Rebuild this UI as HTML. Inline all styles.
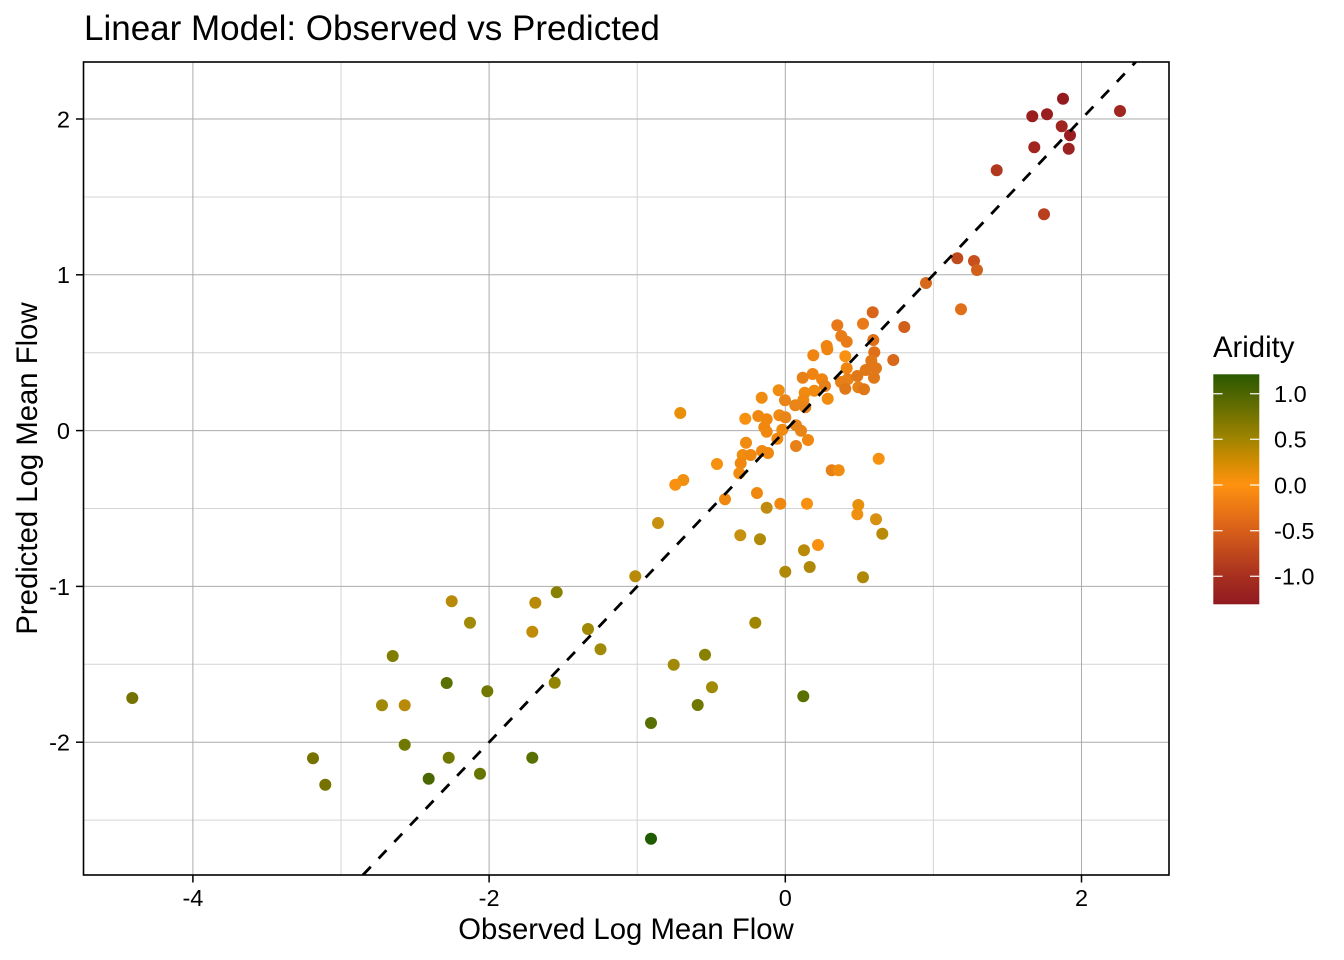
<!DOCTYPE html>
<html>
<head>
<meta charset="utf-8">
<style>
  html,body{margin:0;padding:0;background:#fff;}
  svg{display:block;}
  text{font-family:"Liberation Sans", Arial, sans-serif; fill:#000;}
</style>
</head>
<body>
<svg width="1344" height="960" viewBox="0 0 1344 960" xmlns="http://www.w3.org/2000/svg">
  <defs>
    <linearGradient id="cb" x1="0" y1="0" x2="0" y2="1">
      <stop offset="0" stop-color="#2a5900"/>
      <stop offset="0.082" stop-color="#4c6400"/>
      <stop offset="0.281" stop-color="#a08400"/>
      <stop offset="0.380" stop-color="#d38c00"/>
      <stop offset="0.479" stop-color="#ff9210"/>
      <stop offset="0.677" stop-color="#d8601a"/>
      <stop offset="0.875" stop-color="#a8301f"/>
      <stop offset="1" stop-color="#901a20"/>
    </linearGradient>
    <clipPath id="panel"><rect x="83.5" y="62" width="1085.5" height="813"/></clipPath>
  </defs>

  <rect x="0" y="0" width="1344" height="960" fill="#fff"/>

  <!-- Title -->
  <text x="84" y="40" font-size="35">Linear Model: Observed vs Predicted</text>

  <!-- Grid minor -->
  <g stroke="#d4d4d4" stroke-width="1" fill="none">
    <line x1="341" y1="62" x2="341" y2="875"/>
    <line x1="637.2" y1="62" x2="637.2" y2="875"/>
    <line x1="933.4" y1="62" x2="933.4" y2="875"/>
    <line x1="83.5" y1="197" x2="1169" y2="197"/>
    <line x1="83.5" y1="352.7" x2="1169" y2="352.7"/>
    <line x1="83.5" y1="508.5" x2="1169" y2="508.5"/>
    <line x1="83.5" y1="664.3" x2="1169" y2="664.3"/>
    <line x1="83.5" y1="820.1" x2="1169" y2="820.1"/>
  </g>
  <!-- Grid major -->
  <g stroke="#ababab" stroke-width="1" fill="none">
    <line x1="192.9" y1="62" x2="192.9" y2="875"/>
    <line x1="489.1" y1="62" x2="489.1" y2="875"/>
    <line x1="785.3" y1="62" x2="785.3" y2="875"/>
    <line x1="1081.5" y1="62" x2="1081.5" y2="875"/>
    <line x1="83.5" y1="119" x2="1169" y2="119"/>
    <line x1="83.5" y1="274.8" x2="1169" y2="274.8"/>
    <line x1="83.5" y1="430.6" x2="1169" y2="430.6"/>
    <line x1="83.5" y1="586.4" x2="1169" y2="586.4"/>
    <line x1="83.5" y1="742.2" x2="1169" y2="742.2"/>
  </g>

  <!-- Points -->
  <g clip-path="url(#panel)">
    <circle cx="1063" cy="98.7" r="6" fill="#951a20"/>
    <circle cx="1120" cy="111" r="6" fill="#a0261f"/>
    <circle cx="1032.3" cy="116.3" r="6" fill="#9a1e20"/>
    <circle cx="1047" cy="114.3" r="6" fill="#9a1e20"/>
    <circle cx="1061.7" cy="126.3" r="6" fill="#a0241f"/>
    <circle cx="1070" cy="135.3" r="6" fill="#9a1e20"/>
    <circle cx="1034.3" cy="147.3" r="6" fill="#a0261f"/>
    <circle cx="1068.7" cy="148.7" r="6" fill="#9a2220"/>
    <circle cx="996.7" cy="170.3" r="6" fill="#b0381f"/>
    <circle cx="1044" cy="214.3" r="6" fill="#b8401f"/>
    <circle cx="957.3" cy="258.3" r="6" fill="#c04a1c"/>
    <circle cx="974" cy="261" r="6" fill="#c8501c"/>
    <circle cx="977" cy="270" r="6" fill="#d0601a"/>
    <circle cx="961" cy="309.3" r="6" fill="#e07018"/>
    <circle cx="926" cy="283" r="6" fill="#d8681a"/>
    <circle cx="904.3" cy="327" r="6" fill="#d0601a"/>
    <circle cx="872.7" cy="312.3" r="6" fill="#d8651a"/>
    <circle cx="893.3" cy="360" r="6" fill="#d8681a"/>

    <circle cx="837.3" cy="325.3" r="6" fill="#e8781a"/>
    <circle cx="863" cy="323.7" r="6" fill="#e87a1a"/>
    <circle cx="841.3" cy="336" r="6" fill="#e87c18"/>
    <circle cx="846.7" cy="341.7" r="6" fill="#e87c18"/>
    <circle cx="873.3" cy="340" r="6" fill="#e07018"/>
    <circle cx="826.7" cy="346" r="6" fill="#f08410"/>
    <circle cx="827.3" cy="349.3" r="6" fill="#f08410"/>
    <circle cx="874.3" cy="352.3" r="6" fill="#e07018"/>
    <circle cx="813.3" cy="355.3" r="6" fill="#f08410"/>
    <circle cx="845.3" cy="356.3" r="6" fill="#f89010"/>
    <circle cx="871.3" cy="360.7" r="6" fill="#e07818"/>
    <circle cx="846.7" cy="368.3" r="6" fill="#f08410"/>
    <circle cx="876" cy="368.3" r="6" fill="#e07818"/>
    <circle cx="865.7" cy="370" r="6" fill="#e07818"/>
    <circle cx="812.7" cy="374" r="6" fill="#f08410"/>
    <circle cx="802.7" cy="377.7" r="6" fill="#e88018"/>
    <circle cx="822" cy="379.3" r="6" fill="#f08410"/>
    <circle cx="847.7" cy="379.3" r="6" fill="#e88018"/>
    <circle cx="857.3" cy="376" r="6" fill="#e07818"/>
    <circle cx="874" cy="377.7" r="6" fill="#e07818"/>
    <circle cx="841" cy="382" r="6" fill="#e88018"/>
    <circle cx="858.3" cy="387.3" r="6" fill="#e88018"/>
    <circle cx="864" cy="389.3" r="6" fill="#e07818"/>
    <circle cx="845.3" cy="388.7" r="6" fill="#e07818"/>
    <circle cx="825" cy="386" r="6" fill="#e88018"/>
    <circle cx="804.7" cy="392.7" r="6" fill="#f08a10"/>
    <circle cx="814.3" cy="390.7" r="6" fill="#f08a10"/>
    <circle cx="778.7" cy="390.3" r="6" fill="#f08c10"/>
    <circle cx="761.7" cy="397.7" r="6" fill="#f08c10"/>
    <circle cx="827.7" cy="398.7" r="6" fill="#f08c10"/>
    <circle cx="785" cy="400.3" r="6" fill="#e88418"/>
    <circle cx="803.3" cy="400" r="6" fill="#f08810"/>
    <circle cx="795.3" cy="405.3" r="6" fill="#e88418"/>
    <circle cx="805.3" cy="407.3" r="6" fill="#e88418"/>
    <circle cx="745.3" cy="418.7" r="6" fill="#f89010"/>
    <circle cx="758.3" cy="416" r="6" fill="#f08810"/>
    <circle cx="766.7" cy="419.3" r="6" fill="#f08810"/>
    <circle cx="779.3" cy="415.3" r="6" fill="#f08a10"/>
    <circle cx="785.3" cy="417.3" r="6" fill="#e88418"/>
    <circle cx="764.3" cy="427.3" r="6" fill="#f08810"/>
    <circle cx="766.7" cy="431.7" r="6" fill="#f08810"/>
    <circle cx="782.3" cy="429.7" r="6" fill="#f08a10"/>
    <circle cx="796" cy="425.3" r="6" fill="#e88418"/>
    <circle cx="801" cy="430.7" r="6" fill="#e88418"/>
    <circle cx="777.3" cy="438.7" r="6" fill="#f08810"/>
    <circle cx="808" cy="440" r="6" fill="#f08810"/>
    <circle cx="796" cy="446" r="6" fill="#e88018"/>
    <circle cx="746" cy="442.7" r="6" fill="#f08c10"/>
    <circle cx="762" cy="451" r="6" fill="#f08810"/>
    <circle cx="768" cy="453" r="6" fill="#f08810"/>
    <circle cx="742.7" cy="455" r="6" fill="#f08c10"/>
    <circle cx="750.7" cy="455" r="6" fill="#f08810"/>
    <circle cx="878.7" cy="458.7" r="6" fill="#f89010"/>
    <circle cx="680.3" cy="413" r="6" fill="#e8900a"/>
    <circle cx="740.7" cy="463.3" r="6" fill="#f08810"/>
    <circle cx="717" cy="464" r="6" fill="#f89010"/>
    <circle cx="739.3" cy="473.3" r="6" fill="#f08c10"/>
    <circle cx="683.3" cy="480" r="6" fill="#f09010"/>
    <circle cx="675.3" cy="484.7" r="6" fill="#f89010"/>
    <circle cx="725" cy="499.3" r="6" fill="#f08810"/>
    <circle cx="757" cy="493" r="6" fill="#f08810"/>
    <circle cx="766.7" cy="507.7" r="6" fill="#c08c10"/>
    <circle cx="780.3" cy="503.7" r="6" fill="#f08810"/>
    <circle cx="658" cy="523" r="6" fill="#c89010"/>
    <circle cx="740.3" cy="535.3" r="6" fill="#c89010"/>
    <circle cx="760" cy="539.3" r="6" fill="#b08a08"/>
    <circle cx="831.7" cy="470.3" r="6" fill="#e88018"/>
    <circle cx="838.7" cy="470.3" r="6" fill="#f08c10"/>
    <circle cx="807" cy="503.7" r="6" fill="#f89010"/>
    <circle cx="858.3" cy="505" r="6" fill="#e8900a"/>
    <circle cx="857.3" cy="514.3" r="6" fill="#f09010"/>
    <circle cx="876" cy="519.3" r="6" fill="#d89010"/>
    <circle cx="882.3" cy="533.7" r="6" fill="#b88a08"/>
    <circle cx="818" cy="545" r="6" fill="#f89010"/>
    <circle cx="804" cy="550.3" r="6" fill="#b88a08"/>
    <circle cx="809.7" cy="567" r="6" fill="#b08808"/>
    <circle cx="785.3" cy="571.7" r="6" fill="#b08808"/>
    <circle cx="863" cy="577.3" r="6" fill="#b08808"/>
    <circle cx="803.3" cy="696.3" r="6" fill="#5a7000"/>
    <circle cx="635.3" cy="576.3" r="6" fill="#b88a08"/>
    <circle cx="673.7" cy="664.7" r="6" fill="#a08a08"/>
    <circle cx="705" cy="654.7" r="6" fill="#888000"/>
    <circle cx="712" cy="687.3" r="6" fill="#a08a08"/>
    <circle cx="697.7" cy="705" r="6" fill="#707800"/>
    <circle cx="651" cy="723" r="6" fill="#587000"/>
    <circle cx="651" cy="838.7" r="6" fill="#1f5c00"/>
    <circle cx="755.3" cy="622.7" r="6" fill="#a08600"/>
    <circle cx="451.7" cy="601.3" r="6" fill="#b88a08"/>
    <circle cx="470" cy="622.7" r="6" fill="#a08a08"/>
    <circle cx="535.3" cy="602.7" r="6" fill="#b88a08"/>
    <circle cx="556.7" cy="592.3" r="6" fill="#888000"/>
    <circle cx="532.3" cy="631.7" r="6" fill="#c08c08"/>
    <circle cx="588" cy="629" r="6" fill="#a08800"/>
    <circle cx="600.5" cy="649.2" r="6" fill="#a08a08"/>
    <circle cx="392.7" cy="656" r="6" fill="#807e00"/>
    <circle cx="446.7" cy="683" r="6" fill="#5a7000"/>
    <circle cx="487.3" cy="691.3" r="6" fill="#707800"/>
    <circle cx="554.7" cy="682.7" r="6" fill="#908400"/>
    <circle cx="382" cy="705.3" r="6" fill="#a08a08"/>
    <circle cx="404.7" cy="705.3" r="6" fill="#b88a08"/>
    <circle cx="404.7" cy="744.7" r="6" fill="#707800"/>
    <circle cx="448.7" cy="757.7" r="6" fill="#707800"/>
    <circle cx="532.3" cy="757.7" r="6" fill="#587000"/>
    <circle cx="428.7" cy="778.7" r="6" fill="#4a6800"/>
    <circle cx="480" cy="773.7" r="6" fill="#687400"/>
    <circle cx="132.3" cy="698" r="6" fill="#757200"/>
    <circle cx="313" cy="758.3" r="6" fill="#757200"/>
    <circle cx="325.3" cy="784.7" r="6" fill="#757200"/>
  </g>

  <!-- Dashed identity line -->
  <g clip-path="url(#panel)">
    <line x1="362.9" y1="875" x2="1135.7" y2="62" stroke="#000" stroke-width="2.8" stroke-dasharray="11.4 11.4"/>
  </g>

  <!-- Panel border -->
  <rect x="83.5" y="62" width="1085.5" height="813" fill="none" stroke="#000" stroke-width="1.6"/>

  <!-- Y ticks -->
  <g stroke="#000" stroke-width="1.5">
    <line x1="76" y1="119" x2="83.5" y2="119"/>
    <line x1="76" y1="274.8" x2="83.5" y2="274.8"/>
    <line x1="76" y1="430.6" x2="83.5" y2="430.6"/>
    <line x1="76" y1="586.4" x2="83.5" y2="586.4"/>
    <line x1="76" y1="742.2" x2="83.5" y2="742.2"/>
  </g>
  <g font-size="23.5" text-anchor="end">
    <text x="70" y="127.4">2</text>
    <text x="70" y="283.2">1</text>
    <text x="70" y="439">0</text>
    <text x="70" y="594.8">-1</text>
    <text x="70" y="750.6">-2</text>
  </g>

  <!-- X ticks -->
  <g stroke="#000" stroke-width="1.5">
    <line x1="192.9" y1="875" x2="192.9" y2="882.5"/>
    <line x1="489.1" y1="875" x2="489.1" y2="882.5"/>
    <line x1="785.3" y1="875" x2="785.3" y2="882.5"/>
    <line x1="1081.5" y1="875" x2="1081.5" y2="882.5"/>
  </g>
  <g font-size="23.5" text-anchor="middle">
    <text x="192.9" y="906">-4</text>
    <text x="489.1" y="906">-2</text>
    <text x="785.3" y="906">0</text>
    <text x="1081.5" y="906">2</text>
  </g>

  <!-- Axis titles -->
  <text x="626" y="939" font-size="29.3" text-anchor="middle">Observed Log Mean Flow</text>
  <text transform="translate(37,468.5) rotate(-90)" font-size="29.3" text-anchor="middle">Predicted Log Mean Flow</text>

  <!-- Legend -->
  <text x="1213" y="357" font-size="29.3">Aridity</text>
  <rect x="1213.3" y="374.3" width="46" height="230" fill="url(#cb)"/>
  <g stroke="#ffffff" stroke-width="1.4" opacity="0.85">
    <line x1="1213.3" y1="393.7" x2="1222.6" y2="393.7"/>
    <line x1="1250" y1="393.7" x2="1259.3" y2="393.7"/>
    <line x1="1213.3" y1="439.3" x2="1222.6" y2="439.3"/>
    <line x1="1250" y1="439.3" x2="1259.3" y2="439.3"/>
    <line x1="1213.3" y1="485" x2="1222.6" y2="485"/>
    <line x1="1250" y1="485" x2="1259.3" y2="485"/>
    <line x1="1213.3" y1="530.7" x2="1222.6" y2="530.7"/>
    <line x1="1250" y1="530.7" x2="1259.3" y2="530.7"/>
    <line x1="1213.3" y1="576.3" x2="1222.6" y2="576.3"/>
    <line x1="1250" y1="576.3" x2="1259.3" y2="576.3"/>
  </g>
  <g font-size="23.5">
    <text x="1274" y="402.1">1.0</text>
    <text x="1274" y="447.7">0.5</text>
    <text x="1274" y="493.4">0.0</text>
    <text x="1274" y="539.1">-0.5</text>
    <text x="1274" y="584.7">-1.0</text>
  </g>
</svg>
</body>
</html>
